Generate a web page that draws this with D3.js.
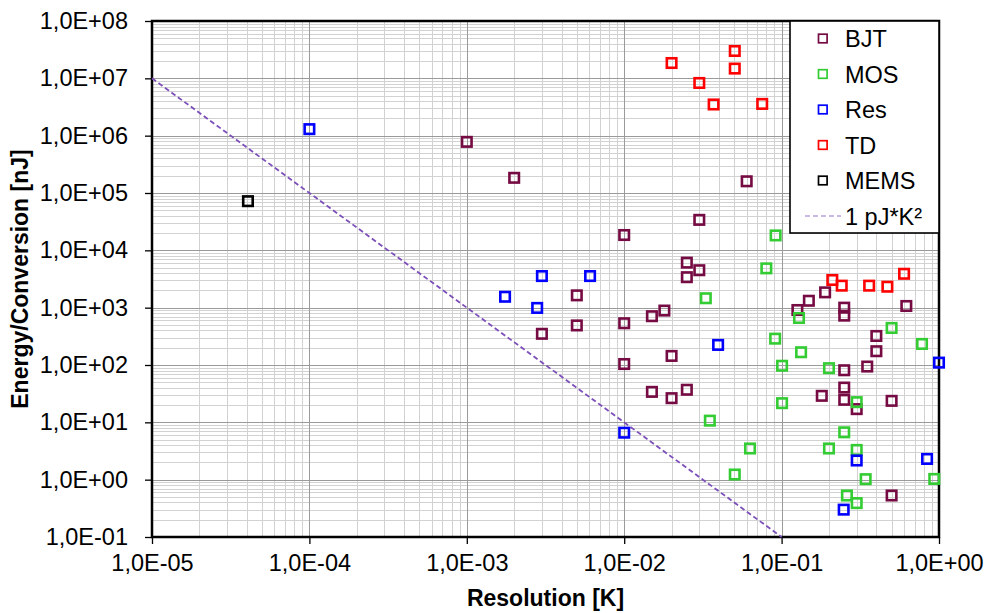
<!DOCTYPE html>
<html>
<head>
<meta charset="utf-8">
<script src="https://cdn.jsdelivr.net/npm/d3@7"></script>
<style>
  body { margin: 0; background: #fff; }
  text { font-family: "Liberation Sans", Arial, sans-serif; }
</style>
</head>
<body>
<script>
// Resolution [K] vs energy per conversion [nJ], per sensor type
const bjtRes = [1e-3, 2e-3, 0.06, 0.03, 0.01, 5e-3, 5e-3, 3e-3, 0.01, 0.01, 0.015, 0.015, 0.025, 0.03, 0.025, 0.018, 0.02, 0.02, 0.025,
  0.126, 0.149, 0.189, 0.25, 0.25, 0.62, 0.40, 0.40, 0.35, 0.25, 0.25, 0.25, 0.18, 0.30, 0.50, 0.50];
const bjtEnergy = [7.8e5, 1.84e5, 1.6e5, 3.4e4, 1.85e4, 1640, 490, 350, 535, 104, 710, 34, 6100, 4500, 3400, 890, 144, 26.4, 37,
  910, 1320, 1850, 1000, 726, 1070, 321, 174, 94, 81, 40.4, 24.7, 29, 17, 23.7, 0.53];

const mosRes = [0.0916, 0.080, 0.033, 0.129, 0.091, 0.133, 0.1007, 0.20, 0.50, 0.78, 0.1007, 0.30, 0.035, 0.25, 0.063, 0.20, 0.30,
  0.0504, 0.342, 0.933, 0.26, 0.30];
const mosEnergy = [1.82e4, 4850, 1460, 661, 288, 167, 97, 88, 443, 233, 21.6, 22.5, 10.7, 6.7, 3.5, 3.5, 3.3, 1.23, 1.02, 1.03, 0.53, 0.39];

const resRes = [1e-4, 1.75e-3, 3.0e-3, 2.8e-3, 6.07e-3, 1e-2, 0.0395, 0.248, 0.30, 0.84, 1.0];
const resEnergy = [1.3e6, 1550, 3560, 990, 3560, 6.6, 224, 0.30, 2.16, 2.3, 110];

const tdRes = [0.020, 0.0504, 0.0504, 0.030, 0.037, 0.0753, 0.21, 0.241, 0.36, 0.47, 0.60];
const tdEnergy = [1.85e7, 3.0e7, 1.48e7, 8.3e6, 3.5e6, 3.58e6, 3040, 2420, 2420, 2320, 3900];

const memsRes = [4.07e-5];
const memsEnergy = [7.2e4];

// 1 pJ*K² reference line (end points)
const refRes = [1e-5, 1e-1];
const refEnergy = [1e7, 1e-1];

const seriesNames = ["BJT", "MOS", "Res", "TD", "MEMS"];
const refName = "1 pJ*K\u00b2";
const xTickLabels = ["1,0E-05", "1,0E-04", "1,0E-03", "1,0E-02", "1,0E-01", "1,0E+00"];
const yTickLabels = ["1,0E-01", "1,0E+00", "1,0E+01", "1,0E+02", "1,0E+03", "1,0E+04", "1,0E+05", "1,0E+06", "1,0E+07", "1,0E+08"];

const width = 991;
const height = 613;
const plotLeft = 152, plotRight = 939, plotTop = 21, plotBottom = 537;

const colors = ["#760a42", "#33cc33", "#0000ff", "#ff0000", "#000000"];
const series = [
  [bjtRes, bjtEnergy], [mosRes, mosEnergy], [resRes, resEnergy], [tdRes, tdEnergy], [memsRes, memsEnergy]
].map(([xs, ys], i) => ({
  name: seriesNames[i],
  color: colors[i],
  points: xs.map((x, j) => ({ x, y: ys[j] }))
}));

const x = d3.scaleLog().domain([1e-5, 1]).range([plotLeft, plotRight]);
const y = d3.scaleLog().domain([0.1, 1e8]).range([plotBottom, plotTop]);

const svg = d3.select("body").append("svg")
  .attr("width", width)
  .attr("height", height);

// grid: minor first, then major
const xMinor = [], yMinor = [];
for (let e = -5; e < 0; e++) for (let k = 2; k <= 9; k++) xMinor.push(k * Math.pow(10, e));
for (let e = -1; e < 8; e++) for (let k = 2; k <= 9; k++) yMinor.push(k * Math.pow(10, e));
const xMajor = d3.range(-5, 1).map(e => Math.pow(10, e));
const yMajor = d3.range(-1, 9).map(e => Math.pow(10, e));

const grid = svg.append("g");
grid.selectAll(".xm").data(xMinor).enter().append("line")
  .attr("x1", d => Math.round(x(d)) + 0.5).attr("x2", d => Math.round(x(d)) + 0.5)
  .attr("y1", plotTop).attr("y2", plotBottom)
  .attr("stroke", "#d2d2d2").attr("stroke-width", 1);
grid.selectAll(".ym").data(yMinor).enter().append("line")
  .attr("y1", d => Math.round(y(d)) + 0.5).attr("y2", d => Math.round(y(d)) + 0.5)
  .attr("x1", plotLeft).attr("x2", plotRight)
  .attr("stroke", "#d2d2d2").attr("stroke-width", 1);
grid.selectAll(".xM").data(xMajor).enter().append("line")
  .attr("x1", d => Math.round(x(d)) + 0.5).attr("x2", d => Math.round(x(d)) + 0.5)
  .attr("y1", plotTop).attr("y2", plotBottom)
  .attr("stroke", "#9a9a9a").attr("stroke-width", 1);
grid.selectAll(".yM").data(yMajor).enter().append("line")
  .attr("y1", d => Math.round(y(d)) + 0.5).attr("y2", d => Math.round(y(d)) + 0.5)
  .attr("x1", plotLeft).attr("x2", plotRight)
  .attr("stroke", "#9a9a9a").attr("stroke-width", 1);

// axes
const xAxis = d3.axisBottom(x)
  .tickValues(xMajor)
  .tickSize(7)
  .tickPadding(10)
  .tickFormat((d, i) => xTickLabels[i]);
const yAxis = d3.axisLeft(y)
  .tickValues(yMajor)
  .tickSize(7)
  .tickPadding(17)
  .tickFormat((d, i) => yTickLabels[i]);

const gx = svg.append("g").attr("transform", `translate(0,${plotBottom})`).call(xAxis);
const gy = svg.append("g").attr("transform", `translate(${plotLeft},0)`).call(yAxis);
[gx, gy].forEach(g => {
  g.select(".domain").remove();
  g.selectAll(".tick line").attr("stroke", "#000").attr("stroke-width", 1.3);
  g.selectAll(".tick text")
    .attr("fill", "#000")
    .attr("font-size", "23.5px")
    .attr("font-family", "Liberation Sans, Arial, sans-serif");
});

// plot frame
svg.append("rect")
  .attr("x", plotLeft).attr("y", plotTop)
  .attr("width", plotRight - plotLeft).attr("height", plotBottom - plotTop)
  .attr("fill", "none").attr("stroke", "#000").attr("stroke-width", 2.5);

// reference line
const line = d3.line().x(d => x(d.x)).y(d => y(d.y));
svg.append("path")
  .datum(refRes.map((v, i) => ({ x: v, y: refEnergy[i] })))
  .attr("d", line)
  .attr("fill", "none")
  .attr("stroke", "#7d4fbb")
  .attr("stroke-width", 1.8)
  .attr("stroke-dasharray", "5,3");

// markers
const markerSize = 9.5;
series.forEach(s => {
  svg.append("g")
    .selectAll("rect")
    .data(s.points)
    .enter()
    .append("rect")
    .attr("x", d => x(d.x) - markerSize / 2)
    .attr("y", d => y(d.y) - markerSize / 2)
    .attr("width", markerSize)
    .attr("height", markerSize)
    .attr("fill", "none")
    .attr("stroke", s.color)
    .attr("stroke-width", 2.6);
});

// legend
const legend = svg.append("g");
legend.append("rect")
  .attr("x", 790).attr("y", plotTop)
  .attr("width", plotRight - 790).attr("height", 233 - plotTop)
  .attr("fill", "#fff").attr("stroke", "#000").attr("stroke-width", 1.6);
const rowY = i => 38.5 + i * 35.5;
series.forEach((s, i) => {
  legend.append("rect")
    .attr("x", 818.5).attr("y", rowY(i) - 4.3)
    .attr("width", 8.6).attr("height", 8.6)
    .attr("fill", "none").attr("stroke", s.color).attr("stroke-width", 1.7);
  legend.append("text")
    .attr("x", 845).attr("y", rowY(i) + 8.5)
    .attr("font-size", "23.5px")
    .text(s.name);
});
legend.append("line")
  .attr("x1", 805).attr("x2", 841)
  .attr("y1", rowY(5)).attr("y2", rowY(5))
  .attr("stroke", "#b9a2dc").attr("stroke-width", 1.5)
  .attr("stroke-dasharray", "5,3");
legend.append("text")
  .attr("x", 845).attr("y", rowY(5) + 8.5)
  .attr("font-size", "23.5px")
  .text(refName);

// axis titles
svg.append("text")
  .attr("x", (plotLeft + plotRight) / 2).attr("y", 606)
  .attr("text-anchor", "middle")
  .attr("font-size", "23px")
  .attr("font-weight", "bold")
  .text("Resolution [K]");
svg.append("text")
  .attr("transform", `translate(28,${(plotTop + plotBottom) / 2}) rotate(-90)`)
  .attr("text-anchor", "middle")
  .attr("font-size", "23px")
  .attr("font-weight", "bold")
  .text("Energy/Conversion [nJ]");
</script>
</body>
</html>
